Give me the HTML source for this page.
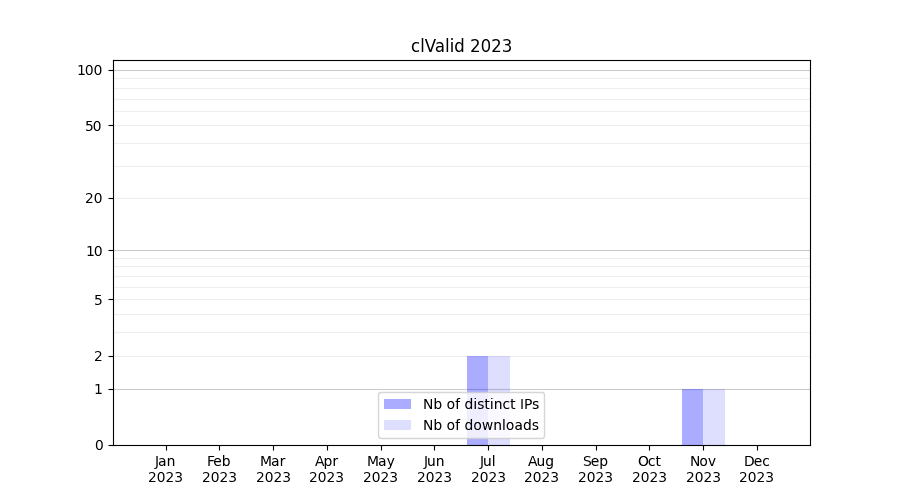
<!DOCTYPE html>
<html lang="en">
<head>
<meta charset="utf-8">
<title>clValid 2023</title>
<style>
html,body{margin:0;padding:0;background:#fff;font-family:"Liberation Sans",sans-serif}
svg{display:block}
</style>
</head>
<body>
<svg width="900" height="500" viewBox="0 0 900 500" role="img" aria-label="clValid 2023 - number of distinct IPs and downloads per month">
<defs>
<path id="g10_30" d="M4.344 -8.906L3.398 -8.66L2.719 -7.922L2.32 -6.707L2.188 -5L2.32 -3.289L2.719 -2.062L3.398 -1.336L4.344 -1.094L5.285 -1.336L5.953 -2.062L6.363 -3.289L6.5 -5L6.363 -6.707L5.953 -7.922L5.285 -8.66L4.344 -8.906ZM4.344 -10L5.138 -9.92L5.832 -9.68L6.427 -9.279L6.922 -8.719L7.312 -8.006L7.59 -7.148L7.757 -6.146L7.812 -5L7.757 -3.854L7.59 -2.852L7.312 -1.994L6.922 -1.281L6.427 -0.721L5.832 -0.32L5.138 -0.08L4.344 0L3.55 -0.08L2.855 -0.32L2.261 -0.721L1.766 -1.281L1.376 -1.994L1.098 -2.852L0.931 -3.854L0.875 -5L0.931 -6.146L1.098 -7.148L1.376 -8.006L1.766 -8.719L2.261 -9.279L2.855 -9.68L3.55 -9.92L4.344 -10Z"/>
<path id="g10_31" d="M1.75 -1.188L4 -1.188L4 -8.781L1.562 -8.297L1.562 -9.516L3.984 -10L5.312 -10L5.312 -1.188L7.625 -1.188L7.625 0L1.75 0L1.75 -1.188Z"/>
<path id="g10_32" d="M2.656 -1.094L7.375 -1.094L7.375 0L1 0L1 -1.094L1.922 -2.012L3.125 -3.203L4.219 -4.305L4.812 -4.922L5.379 -5.586L5.734 -6.141L5.934 -6.645L6 -7.125L5.859 -7.836L5.438 -8.406L4.785 -8.781L3.953 -8.906L2.594 -8.688L1.062 -8.031L1.062 -9.359L2.594 -9.844L3.906 -10L5.309 -9.809L6.391 -9.234L7.082 -8.34L7.312 -7.188L7.078 -6.031L6.762 -5.441L6.25 -4.766L5.895 -4.395L5.172 -3.656L4.098 -2.555L2.656 -1.094Z"/>
<path id="g10_33" d="M5.594 -5.391L6.469 -5.078L7.125 -4.547L7.547 -3.848L7.688 -3L7.623 -2.322L7.43 -1.727L7.107 -1.213L6.656 -0.781L5.422 -0.195L3.75 0L2.453 -0.109L1.062 -0.469L1.062 -1.75L2.312 -1.25L3.734 -1.094L4.863 -1.215L5.688 -1.578L6.203 -2.188L6.375 -3.016L6.219 -3.793L5.75 -4.375L5 -4.738L4 -4.859L2.812 -4.859L2.812 -5.953L4.047 -5.953L4.941 -6.047L5.594 -6.328L5.992 -6.785L6.125 -7.406L5.984 -8.051L5.562 -8.516L4.898 -8.809L4 -8.906L2.781 -8.781L1.375 -8.438L1.375 -9.594L2.812 -9.891L4.094 -10L5.477 -9.832L6.531 -9.328L7.211 -8.539L7.438 -7.516L7.316 -6.766L6.953 -6.141L6.379 -5.68L5.594 -5.391Z"/>
<path id="g10_35" d="M1.5 -10L6.844 -10L6.844 -8.906L2.812 -8.906L2.812 -6.766L3.391 -6.906L3.984 -6.953L5.465 -6.719L6.594 -6.016L7.32 -4.914L7.562 -3.484L7.499 -2.702L7.309 -2.012L6.991 -1.413L6.547 -0.906L5.336 -0.227L3.703 0L2.422 -0.094L1.062 -0.406L1.062 -1.781L2.328 -1.25L3.703 -1.094L4.754 -1.254L5.562 -1.734L6.078 -2.488L6.25 -3.469L6.078 -4.449L5.562 -5.203L4.762 -5.695L3.703 -5.859L2.609 -5.719L1.5 -5.344L1.5 -10Z"/>
<path id="g10_41" d="M4.75 -9.156L2.891 -3.984L6.609 -3.984L4.75 -9.156ZM3.969 -10L5.516 -10L9.375 0L7.953 0L7.031 -2.828L2.469 -2.828L1.547 0L0.109 0L3.969 -10Z"/>
<path id="g10_44" d="M2.688 -8.906L2.688 -1.094L4.344 -1.094L5.32 -1.152L6.156 -1.328L6.852 -1.621L7.406 -2.031L7.83 -2.575L8.133 -3.254L8.314 -4.067L8.375 -5.016L8.314 -5.956L8.133 -6.762L7.83 -7.433L7.406 -7.969L6.852 -8.379L6.156 -8.672L5.32 -8.848L4.344 -8.906L2.688 -8.906ZM1.375 -10L4.188 -10L5.559 -9.924L6.734 -9.695L7.715 -9.314L8.5 -8.781L9.102 -8.095L9.531 -7.238L9.789 -6.212L9.875 -5.016L9.788 -3.812L9.527 -2.777L9.093 -1.913L8.484 -1.219L7.7 -0.686L6.723 -0.305L5.552 -0.076L4.188 0L1.375 0L1.375 -10Z"/>
<path id="g10_46" d="M1.375 -10L7.141 -10L7.141 -8.906L2.688 -8.906L2.688 -5.953L6.703 -5.953L6.703 -4.859L2.688 -4.859L2.688 0L1.375 0L1.375 -10Z"/>
<path id="g10_49" d="M1.375 -10L2.688 -10L2.688 0L1.375 0L1.375 -10Z"/>
<path id="g10_4a" d="M1.375 -10L2.688 -10L2.688 -0.5L2.516 1.078L2 2.156L1.121 2.789L-0.172 3L-0.688 3L-0.688 1.906L-0.266 1.906L0.504 1.777L1 1.391L1.281 0.672L1.375 -0.453L1.375 -10Z"/>
<path id="g10_4d" d="M1.375 -10L3.406 -10L6 -3.188L8.609 -10L10.625 -10L10.625 0L9.312 0L9.312 -8.781L6.688 -1.922L5.312 -1.922L2.688 -8.781L2.688 0L1.375 0L1.375 -10Z"/>
<path id="g10_4e" d="M1.375 -10L3.203 -10L7.688 -1.641L7.688 -10L9 -10L9 0L7.172 0L2.688 -8.359L2.688 0L1.375 0L1.375 -10Z"/>
<path id="g10_4f" d="M5.438 -8.906L4.747 -8.841L4.129 -8.645L3.583 -8.317L3.109 -7.859L2.465 -6.621L2.25 -5L2.465 -3.387L3.109 -2.141L3.583 -1.683L4.129 -1.355L4.747 -1.159L5.438 -1.094L6.134 -1.159L6.754 -1.355L7.298 -1.683L7.766 -2.141L8.41 -3.387L8.625 -5L8.41 -6.621L7.766 -7.859L7.298 -8.317L6.754 -8.645L6.134 -8.841L5.438 -8.906ZM5.438 -10L6.453 -9.915L7.359 -9.66L8.156 -9.235L8.844 -8.641L9.404 -7.903L9.805 -7.051L10.045 -6.083L10.125 -5L10.045 -3.917L9.805 -2.949L9.404 -2.097L8.844 -1.359L8.156 -0.765L7.359 -0.34L6.453 -0.085L5.438 0L4.428 -0.084L3.523 -0.336L2.725 -0.756L2.031 -1.344L1.471 -2.082L1.07 -2.938L0.83 -3.91L0.75 -5L0.83 -6.083L1.07 -7.051L1.471 -7.903L2.031 -8.641L2.725 -9.235L3.523 -9.66L4.428 -9.915L5.438 -10Z"/>
<path id="g10_50" d="M2.688 -8.906L2.688 -4.953L4.391 -4.953L5.234 -5.082L5.859 -5.469L6.246 -6.09L6.375 -6.922L6.246 -7.766L5.859 -8.391L5.234 -8.777L4.391 -8.906L2.688 -8.906ZM1.375 -10L4.453 -10L5.934 -9.805L7 -9.219L7.656 -8.258L7.875 -6.938L7.656 -5.605L7 -4.641L5.918 -4.055L4.422 -3.859L2.688 -3.859L2.688 0L1.375 0L1.375 -10Z"/>
<path id="g10_53" d="M7.422 -9.5L7.422 -8.203L5.922 -8.734L4.562 -8.906L3.551 -8.801L2.797 -8.484L2.34 -7.992L2.188 -7.328L2.289 -6.766L2.594 -6.359L3.184 -6.066L4.141 -5.844L4.984 -5.672L6.328 -5.297L7.266 -4.703L7.816 -3.887L8 -2.844L7.754 -1.609L7.016 -0.719L5.801 -0.18L4.125 0L2.594 -0.156L0.922 -0.641L0.922 -1.984L2.562 -1.312L4.156 -1.094L5.207 -1.203L5.984 -1.531L6.465 -2.062L6.625 -2.781L6.508 -3.41L6.156 -3.891L5.555 -4.242L4.656 -4.484L3.812 -4.641L2.477 -5.008L1.562 -5.547L1.047 -6.289L0.875 -7.266L1.113 -8.406L1.828 -9.266L2.957 -9.816L4.438 -10L5.891 -9.875L7.422 -9.5Z"/>
<path id="g10_61" d="M4.797 -3.859L3.551 -3.777L2.75 -3.531L2.328 -3.102L2.188 -2.438L2.293 -1.879L2.609 -1.453L3.117 -1.184L3.766 -1.094L4.68 -1.266L5.391 -1.781L5.848 -2.582L6 -3.609L6 -3.859L4.797 -3.859ZM7.312 -4.453L7.312 0L6 0L6 -1.375L5.523 -0.762L4.938 -0.328L4.238 -0.082L3.391 0L2.352 -0.16L1.547 -0.641L1.043 -1.406L0.875 -2.391L1.086 -3.512L1.719 -4.312L2.785 -4.793L4.266 -4.953L6 -4.953L6 -5.094L5.859 -5.855L5.438 -6.422L4.773 -6.785L3.875 -6.906L2.625 -6.75L1.469 -6.281L1.469 -7.453L2.781 -7.859L4.047 -8L5.48 -7.777L6.5 -7.109L7.109 -6.008L7.312 -4.453Z"/>
<path id="g10_62" d="M6.75 -4L6.609 -5.211L6.188 -6.125L5.531 -6.711L4.656 -6.906L3.789 -6.711L3.125 -6.125L2.703 -5.211L2.562 -4L2.703 -2.785L3.125 -1.859L3.789 -1.285L4.656 -1.094L5.531 -1.285L6.188 -1.859L6.609 -2.785L6.75 -4ZM2.562 -6.625L3.004 -7.234L3.547 -7.656L4.199 -7.914L4.969 -8L5.624 -7.931L6.215 -7.723L6.741 -7.376L7.203 -6.891L7.848 -5.621L8.062 -4L7.848 -2.375L7.203 -1.094L6.741 -0.615L6.215 -0.273L5.624 -0.068L4.969 0L4.199 -0.082L3.547 -0.328L3.004 -0.762L2.562 -1.375L2.562 0L1.25 0L1.25 -11L2.562 -11L2.562 -6.625Z"/>
<path id="g10_63" d="M6.75 -7.516L6.75 -6.328L5.688 -6.75L4.625 -6.906L3.543 -6.715L2.734 -6.141L2.23 -5.223L2.062 -4L2.23 -2.777L2.734 -1.859L3.543 -1.285L4.625 -1.094L5.688 -1.234L6.75 -1.672L6.75 -0.5L5.672 -0.125L4.484 0L3.669 -0.067L2.941 -0.27L2.302 -0.606L1.75 -1.078L1 -2.348L0.75 -4L0.813 -4.88L1.004 -5.66L1.321 -6.341L1.766 -6.922L2.327 -7.394L2.98 -7.73L3.726 -7.933L4.562 -8L5.688 -7.875L6.75 -7.516Z"/>
<path id="g10_64" d="M6.25 -6.625L6.25 -11L7.562 -11L7.562 0L6.25 0L6.25 -1.375L5.809 -0.762L5.266 -0.328L4.609 -0.082L3.828 0L3.18 -0.068L2.594 -0.273L2.07 -0.615L1.609 -1.094L0.965 -2.375L0.75 -4L0.965 -5.621L1.609 -6.891L2.07 -7.376L2.594 -7.723L3.18 -7.931L3.828 -8L4.609 -7.914L5.266 -7.656L5.809 -7.234L6.25 -6.625ZM2.062 -4L2.199 -2.785L2.609 -1.859L3.277 -1.285L4.156 -1.094L5.023 -1.285L5.688 -1.859L6.109 -2.785L6.25 -4L6.109 -5.211L5.688 -6.125L5.023 -6.711L4.156 -6.906L3.277 -6.711L2.609 -6.125L2.199 -5.211L2.062 -4Z"/>
<path id="g10_65" d="M7.812 -4.453L7.812 -3.859L2.062 -3.859L2.238 -2.664L2.766 -1.797L3.609 -1.27L4.734 -1.094L6.141 -1.281L7.516 -1.828L7.516 -0.609L6.125 -0.156L4.703 0L3.837 -0.066L3.066 -0.266L2.392 -0.598L1.812 -1.062L1.348 -1.641L1.016 -2.312L0.816 -3.078L0.75 -3.938L1 -5.617L1.75 -6.906L2.302 -7.385L2.941 -7.727L3.669 -7.932L4.484 -8L5.867 -7.762L6.922 -7.047L7.59 -5.922L7.812 -4.453ZM6.5 -4.953L6.359 -5.754L5.938 -6.375L5.285 -6.773L4.453 -6.906L3.52 -6.777L2.781 -6.391L2.289 -5.781L2.062 -4.953L6.5 -4.953Z"/>
<path id="g10_66" d="M5.188 -11L5.188 -9.906L4.031 -9.906L3.477 -9.836L3.125 -9.625L2.938 -9.254L2.875 -8.672L2.875 -8L4.875 -8L4.875 -6.906L2.875 -6.906L2.875 0L1.562 0L1.562 -6.906L0.375 -6.906L0.375 -8L1.562 -8L1.562 -8.547L1.707 -9.652L2.141 -10.406L2.906 -10.852L4.016 -11L5.188 -11Z"/>
<path id="g10_67" d="M6.25 -4L6.113 -5.23L5.703 -6.141L5.043 -6.715L4.156 -6.906L3.277 -6.715L2.609 -6.141L2.199 -5.23L2.062 -4L2.199 -2.766L2.609 -1.844L3.277 -1.281L4.156 -1.094L5.043 -1.281L5.703 -1.844L6.113 -2.766L6.25 -4ZM7.562 -1.016L7.509 -0.065L7.348 0.754L7.079 1.442L6.703 2L5.613 2.75L4.062 3L2.812 2.891L1.688 2.578L1.688 1.312L2.75 1.766L3.828 1.906L4.891 1.742L5.641 1.25L6.098 0.422L6.25 -0.75L6.25 -1.391L5.809 -0.785L5.266 -0.344L4.609 -0.086L3.828 0L3.173 -0.068L2.582 -0.273L2.056 -0.615L1.594 -1.094L0.961 -2.367L0.75 -4L0.961 -5.633L1.594 -6.906L2.056 -7.385L2.582 -7.727L3.173 -7.932L3.828 -8L4.609 -7.914L5.266 -7.656L5.809 -7.223L6.25 -6.609L6.25 -8L7.562 -8L7.562 -1.016Z"/>
<path id="g10_69" d="M1.25 -8L2.562 -8L2.562 0L1.25 0L1.25 -8ZM1.25 -11L2.562 -11L2.562 -9.906L1.25 -9.906L1.25 -11Z"/>
<path id="g10_6c" d="M1.25 -11L2.562 -11L2.562 0L1.25 0L1.25 -11Z"/>
<path id="g10_6e" d="M7.625 -4.719L7.625 0L6.312 0L6.312 -4.688L6.211 -5.668L5.906 -6.359L5.395 -6.77L4.672 -6.906L3.801 -6.742L3.125 -6.25L2.703 -5.465L2.562 -4.422L2.562 0L1.25 0L1.25 -8L2.562 -8L2.562 -6.625L3.051 -7.227L3.609 -7.656L4.262 -7.914L5 -8L6.137 -7.789L6.953 -7.156L7.457 -6.133L7.625 -4.719Z"/>
<path id="g10_6f" d="M4.219 -6.906L3.332 -6.711L2.641 -6.125L2.207 -5.203L2.062 -4L2.207 -2.797L2.641 -1.875L3.324 -1.289L4.219 -1.094L5.113 -1.289L5.797 -1.875L6.23 -2.797L6.375 -4L6.23 -5.203L5.797 -6.125L5.113 -6.711L4.219 -6.906ZM4.219 -8L4.987 -7.934L5.668 -7.734L6.261 -7.402L6.766 -6.938L7.457 -5.672L7.688 -4L7.457 -2.336L6.766 -1.062L6.261 -0.598L5.668 -0.266L4.987 -0.066L4.219 0L3.45 -0.066L2.77 -0.266L2.177 -0.598L1.672 -1.062L0.98 -2.336L0.75 -4L0.98 -5.672L1.672 -6.938L2.177 -7.402L2.77 -7.734L3.45 -7.934L4.219 -8Z"/>
<path id="g10_70" d="M2.562 -1.375L2.562 3L1.25 3L1.25 -8L2.562 -8L2.562 -6.625L3.004 -7.234L3.547 -7.656L4.199 -7.914L4.969 -8L5.624 -7.931L6.215 -7.723L6.741 -7.376L7.203 -6.891L7.848 -5.621L8.062 -4L7.848 -2.375L7.203 -1.094L6.741 -0.615L6.215 -0.273L5.624 -0.068L4.969 0L4.199 -0.082L3.547 -0.328L3.004 -0.762L2.562 -1.375ZM6.75 -4L6.609 -5.211L6.188 -6.125L5.531 -6.711L4.656 -6.906L3.789 -6.711L3.125 -6.125L2.703 -5.211L2.562 -4L2.703 -2.785L3.125 -1.859L3.789 -1.285L4.656 -1.094L5.531 -1.285L6.188 -1.859L6.609 -2.785L6.75 -4Z"/>
<path id="g10_72" d="M5.75 -6.656L5.297 -6.844L4.75 -6.906L3.82 -6.727L3.125 -6.188L2.703 -5.316L2.562 -4.141L2.562 0L1.25 0L1.25 -8L2.562 -8L2.562 -6.641L3.012 -7.238L3.578 -7.656L4.285 -7.914L5.125 -8L5.406 -8.016L5.75 -8.109L5.75 -6.656Z"/>
<path id="g10_73" d="M6.078 -7.578L6.078 -6.375L5 -6.766L3.828 -6.906L3.031 -6.836L2.453 -6.625L2.113 -6.27L2 -5.766L2.082 -5.387L2.328 -5.094L2.824 -4.852L3.656 -4.625L4.078 -4.531L5.199 -4.18L5.938 -3.719L6.359 -3.102L6.5 -2.281L6.289 -1.34L5.656 -0.609L4.668 -0.152L3.359 0L2.078 -0.125L0.703 -0.5L0.703 -1.797L2.047 -1.266L3.375 -1.094L4.148 -1.168L4.719 -1.391L5.07 -1.754L5.188 -2.25L5.102 -2.691L4.844 -3.016L4.301 -3.285L3.359 -3.531L2.922 -3.641L1.938 -3.941L1.266 -4.375L0.879 -4.984L0.75 -5.781L0.938 -6.711L1.5 -7.406L2.422 -7.852L3.656 -8L4.953 -7.891L6.078 -7.578Z"/>
<path id="g10_74" d="M2.562 -10L2.562 -8L5.125 -8L5.125 -6.906L2.562 -6.906L2.562 -2.609L2.625 -1.812L2.812 -1.359L3.203 -1.148L3.844 -1.078L5.125 -1.078L5.125 0L3.828 0L2.586 -0.141L1.797 -0.562L1.387 -1.355L1.25 -2.609L1.25 -6.906L0.375 -6.906L0.375 -8L1.25 -8L1.25 -10L2.562 -10Z"/>
<path id="g10_75" d="M1.125 -3.281L1.125 -8L2.438 -8L2.438 -3.312L2.539 -2.34L2.844 -1.641L3.352 -1.23L4.062 -1.094L4.941 -1.258L5.609 -1.75L6.043 -2.539L6.188 -3.562L6.188 -8L7.5 -8L7.5 0L6.188 0L6.188 -1.375L5.699 -0.762L5.141 -0.328L4.5 -0.082L3.766 0L2.625 -0.207L1.797 -0.828L1.293 -1.863L1.125 -3.281ZM4.312 -8L4.312 -8Z"/>
<path id="g10_76" d="M0.422 -8L1.734 -8L4.109 -1.281L6.484 -8L7.797 -8L4.953 0L3.266 0L0.422 -8Z"/>
<path id="g10_77" d="M0.578 -8L1.828 -8L3.391 -1.75L4.938 -8L6.406 -8L7.969 -1.75L9.516 -8L10.766 -8L8.781 0L7.312 0L5.672 -6.562L4.031 0L2.562 0L0.578 -8Z"/>
<path id="g10_79" d="M4.5 0.703L4.236 1.358L3.977 1.887L3.721 2.288L3.469 2.562L2.883 2.891L2.125 3L1.125 3L1.125 1.922L1.859 1.922L2.316 1.855L2.656 1.656L2.953 1.23L3.281 0.453L3.516 -0.141L0.438 -8L1.766 -8L4.141 -1.75L6.5 -8L7.828 -8L4.5 0.703Z"/>
<path id="g12_30" d="M5.281 -11.641L4.68 -11.561L4.156 -11.32L3.711 -10.92L3.344 -10.359L3.063 -9.638L2.863 -8.754L2.743 -7.708L2.703 -6.5L2.743 -5.298L2.863 -4.254L3.063 -3.368L3.344 -2.641L3.711 -2.08L4.156 -1.68L4.68 -1.439L5.281 -1.359L5.889 -1.439L6.414 -1.68L6.857 -2.08L7.219 -2.641L7.506 -3.368L7.711 -4.254L7.834 -5.298L7.875 -6.5L7.834 -7.708L7.711 -8.754L7.506 -9.638L7.219 -10.359L6.857 -10.92L6.414 -11.32L5.889 -11.561L5.281 -11.641ZM5.281 -13L6.236 -12.896L7.07 -12.582L7.783 -12.06L8.375 -11.328L8.847 -10.399L9.184 -9.285L9.386 -7.985L9.453 -6.5L9.386 -5.008L9.184 -3.703L8.847 -2.586L8.375 -1.656L7.783 -0.932L7.07 -0.414L6.236 -0.104L5.281 0L4.332 -0.104L3.5 -0.414L2.785 -0.932L2.188 -1.656L1.723 -2.586L1.391 -3.703L1.191 -5.008L1.125 -6.5L1.191 -7.985L1.391 -9.285L1.723 -10.399L2.188 -11.328L2.785 -12.06L3.5 -12.582L4.332 -12.896L5.281 -13Z"/>
<path id="g12_32" d="M3.234 -1.359L9 -1.359L9 0L1.25 0L1.25 -1.359L2.355 -2.57L3.797 -4.141L4.533 -4.938L5.117 -5.582L5.549 -6.071L5.828 -6.406L6.504 -7.262L6.938 -7.984L7.172 -8.648L7.25 -9.297L7.078 -10.234L6.562 -10.984L5.785 -11.477L4.797 -11.641L4.008 -11.566L3.172 -11.344L2.281 -10.988L1.328 -10.484L1.328 -12.203L3.172 -12.797L4.734 -13L6.418 -12.75L7.719 -12L8.204 -11.458L8.551 -10.832L8.759 -10.122L8.828 -9.328L8.758 -8.543L8.547 -7.812L8.156 -7.043L7.547 -6.141L7.125 -5.652L6.266 -4.688L4.969 -3.262L3.234 -1.359Z"/>
<path id="g12_33" d="M6.734 -6.984L7.781 -6.59L8.578 -5.906L9.082 -4.992L9.25 -3.875L9.173 -3.005L8.941 -2.238L8.556 -1.575L8.016 -1.016L7.341 -0.571L6.535 -0.254L5.599 -0.063L4.531 0L2.969 -0.141L1.312 -0.594L1.312 -2.281L2.812 -1.594L4.516 -1.359L5.875 -1.531L6.859 -2.047L7.469 -2.91L7.672 -4.094L7.484 -5.203L6.922 -6.031L6.023 -6.559L4.828 -6.734L3.406 -6.734L3.406 -8.078L4.891 -8.078L5.953 -8.188L6.734 -8.516L7.215 -9.07L7.375 -9.828L7.207 -10.602L6.703 -11.172L5.902 -11.523L4.812 -11.641L3.375 -11.5L1.672 -11.078L1.672 -12.484L3.406 -12.875L4.938 -13L6.602 -12.777L7.875 -12.109L8.347 -11.634L8.684 -11.082L8.886 -10.454L8.953 -9.75L8.809 -8.785L8.375 -7.984L7.676 -7.383L6.734 -6.984Z"/>
<path id="g12_56" d="M4.766 0L0.125 -13L1.844 -13L5.688 -2.062L9.531 -13L11.234 -13L6.609 0L4.766 0Z"/>
<path id="g12_61" d="M5.656 -4.734L4.834 -4.71L4.148 -4.637L3.6 -4.515L3.188 -4.344L2.672 -3.812L2.5 -3L2.629 -2.324L3.016 -1.797L3.625 -1.469L4.422 -1.359L5.52 -1.566L6.375 -2.188L6.938 -3.168L7.125 -4.422L7.125 -4.734L5.656 -4.734ZM8.625 -5.578L8.625 0L7.125 0L7.125 -1.703L6.559 -0.941L5.859 -0.406L5.023 -0.102L4.016 0L2.777 -0.199L1.812 -0.797L1.203 -1.727L1 -2.922L1.063 -3.661L1.254 -4.301L1.571 -4.841L2.016 -5.281L3.281 -5.879L5.047 -6.078L7.125 -6.078L7.125 -6.234L6.957 -7.258L6.453 -8.016L5.648 -8.484L4.578 -8.641L3.062 -8.438L1.672 -7.812L1.672 -9.328L3.25 -9.828L4.734 -10L5.649 -9.932L6.441 -9.727L7.11 -9.385L7.656 -8.906L8.08 -8.288L8.383 -7.527L8.564 -6.624L8.625 -5.578Z"/>
<path id="g12_63" d="M8.062 -9.391L8.062 -7.922L6.797 -8.453L5.516 -8.641L4.223 -8.402L3.25 -7.688L2.652 -6.539L2.453 -5L2.652 -3.469L3.25 -2.312L4.223 -1.598L5.516 -1.359L6.797 -1.531L8.062 -2.078L8.062 -0.625L6.766 -0.156L5.344 0L4.372 -0.084L3.504 -0.336L2.739 -0.756L2.078 -1.344L1.552 -2.082L1.176 -2.938L0.95 -3.91L0.875 -5L0.951 -6.102L1.18 -7.078L1.561 -7.93L2.094 -8.656L2.76 -9.244L3.539 -9.664L4.432 -9.916L5.438 -10L6.797 -9.844L8.062 -9.391Z"/>
<path id="g12_64" d="M7.5 -8.281L7.5 -14L9 -14L9 0L7.5 0L7.5 -1.719L6.969 -0.957L6.312 -0.422L5.523 -0.105L4.594 0L3.805 -0.086L3.094 -0.344L2.461 -0.773L1.906 -1.375L1.455 -2.123L1.133 -2.977L0.939 -3.936L0.875 -5L0.939 -6.063L1.133 -7.02L1.455 -7.868L1.906 -8.609L2.461 -9.218L3.094 -9.652L3.805 -9.913L4.594 -10L5.523 -9.895L6.312 -9.578L6.969 -9.043L7.5 -8.281ZM2.453 -5L2.621 -3.48L3.125 -2.328L3.922 -1.602L4.969 -1.359L6.016 -1.602L6.812 -2.328L7.328 -3.48L7.5 -5L7.328 -6.52L6.812 -7.672L6.016 -8.398L4.969 -8.641L3.922 -8.398L3.125 -7.672L2.621 -6.52L2.453 -5Z"/>
<path id="g12_69" d="M1.625 -10L3.125 -10L3.125 0L1.625 0L1.625 -10ZM1.625 -14L3.125 -14L3.125 -11.969L1.625 -11.969L1.625 -14Z"/>
<path id="g12_6c" d="M1.625 -14L3.125 -14L3.125 0L1.625 0L1.625 -14Z"/>
</defs>
<rect width="900" height="500" fill="#fff"/>
<g id="grid-minor" fill="#eee">
<rect x="113" y="77.944" width="698" height="1.111"/>
<rect x="113" y="87.944" width="698" height="1.111"/>
<rect x="113" y="98.944" width="698" height="1.111"/>
<rect x="113" y="110.944" width="698" height="1.111"/>
<rect x="113" y="124.944" width="698" height="1.111"/>
<rect x="113" y="142.944" width="698" height="1.111"/>
<rect x="113" y="165.944" width="698" height="1.111"/>
<rect x="113" y="197.944" width="698" height="1.111"/>
<rect x="113" y="257.944" width="698" height="1.111"/>
<rect x="113" y="265.944" width="698" height="1.111"/>
<rect x="113" y="275.944" width="698" height="1.111"/>
<rect x="113" y="286.944" width="698" height="1.111"/>
<rect x="113" y="298.944" width="698" height="1.111"/>
<rect x="113" y="313.944" width="698" height="1.111"/>
<rect x="113" y="331.944" width="698" height="1.111"/>
<rect x="113" y="355.944" width="698" height="1.111"/>
</g>
<g id="grid-major" fill="#ccc">
<rect x="113" y="69.944" width="698" height="1.111"/>
<rect x="113" y="249.944" width="698" height="1.111"/>
<rect x="113" y="388.944" width="698" height="1.111"/>
</g>
<g id="bars" shape-rendering="crispEdges">
<rect x="467" y="356" width="21" height="89" fill="#00f" fill-opacity=".33"/>
<rect x="488" y="356" width="22" height="89" fill="#00f" fill-opacity=".13"/>
<rect x="682" y="389" width="21" height="56" fill="#00f" fill-opacity=".33"/>
<rect x="703" y="389" width="22" height="56" fill="#00f" fill-opacity=".13"/>
</g>
<g id="ticks" fill="#000">
<rect x="165.944" y="445.5" width="1.111" height="5"/>
<rect x="218.944" y="445.5" width="1.111" height="5"/>
<rect x="272.944" y="445.5" width="1.111" height="5"/>
<rect x="326.944" y="445.5" width="1.111" height="5"/>
<rect x="380.944" y="445.5" width="1.111" height="5"/>
<rect x="433.944" y="445.5" width="1.111" height="5"/>
<rect x="487.944" y="445.5" width="1.111" height="5"/>
<rect x="541.944" y="445.5" width="1.111" height="5"/>
<rect x="595.944" y="445.5" width="1.111" height="5"/>
<rect x="648.944" y="445.5" width="1.111" height="5"/>
<rect x="702.944" y="445.5" width="1.111" height="5"/>
<rect x="756.944" y="445.5" width="1.111" height="5"/>
<rect x="108.5" y="444.944" width="5" height="1.111"/>
<rect x="108.5" y="388.944" width="5" height="1.111"/>
<rect x="108.5" y="355.944" width="5" height="1.111"/>
<rect x="108.5" y="298.944" width="5" height="1.111"/>
<rect x="108.5" y="249.944" width="5" height="1.111"/>
<rect x="108.5" y="197.944" width="5" height="1.111"/>
<rect x="108.5" y="124.944" width="5" height="1.111"/>
<rect x="108.5" y="69.944" width="5" height="1.111"/>
</g>
<g id="spines" fill="#000">
<rect x="112.944" y="59.944" width="1.111" height="386.111"/>
<rect x="809.944" y="59.944" width="1.111" height="386.111"/>
<rect x="112.944" y="444.944" width="698.111" height="1.111"/>
<rect x="112.944" y="59.944" width="698.111" height="1.111"/>
</g>
<g id="labels" fill="#000">
<g aria-label="Jan"><title>Jan</title><use href="#g10_4a" x="155" y="466"/><use href="#g10_61" x="158" y="466"/><use href="#g10_6e" x="166.625" y="466"/></g>
<g aria-label="2023"><title>2023</title><use href="#g10_32" x="148" y="482"/><use href="#g10_30" x="156.75" y="482"/><use href="#g10_32" x="165.5" y="482"/><use href="#g10_33" x="174.25" y="482"/></g>
<g aria-label="Feb"><title>Feb</title><use href="#g10_46" x="207" y="466"/><use href="#g10_65" x="213.25" y="466"/><use href="#g10_62" x="221.75" y="466"/></g>
<g aria-label="2023"><title>2023</title><use href="#g10_32" x="202" y="482"/><use href="#g10_30" x="210.75" y="482"/><use href="#g10_32" x="219.5" y="482"/><use href="#g10_33" x="228.25" y="482"/></g>
<g aria-label="Mar"><title>Mar</title><use href="#g10_4d" x="260" y="466"/><use href="#g10_61" x="271" y="466"/><use href="#g10_72" x="279.625" y="466"/></g>
<g aria-label="2023"><title>2023</title><use href="#g10_32" x="256" y="482"/><use href="#g10_30" x="264.75" y="482"/><use href="#g10_32" x="273.5" y="482"/><use href="#g10_33" x="282.25" y="482"/></g>
<g aria-label="Apr"><title>Apr</title><use href="#g10_41" x="315" y="466"/><use href="#g10_70" x="323.5" y="466"/><use href="#g10_72" x="332.375" y="466"/></g>
<g aria-label="2023"><title>2023</title><use href="#g10_32" x="309" y="482"/><use href="#g10_30" x="317.75" y="482"/><use href="#g10_32" x="326.5" y="482"/><use href="#g10_33" x="335.25" y="482"/></g>
<g aria-label="May"><title>May</title><use href="#g10_4d" x="367" y="466"/><use href="#g10_61" x="378" y="466"/><use href="#g10_79" x="386.625" y="466"/></g>
<g aria-label="2023"><title>2023</title><use href="#g10_32" x="363" y="482"/><use href="#g10_30" x="371.75" y="482"/><use href="#g10_32" x="380.5" y="482"/><use href="#g10_33" x="389.25" y="482"/></g>
<g aria-label="Jun"><title>Jun</title><use href="#g10_4a" x="424" y="466"/><use href="#g10_75" x="427" y="466"/><use href="#g10_6e" x="435.75" y="466"/></g>
<g aria-label="2023"><title>2023</title><use href="#g10_32" x="417" y="482"/><use href="#g10_30" x="425.75" y="482"/><use href="#g10_32" x="434.5" y="482"/><use href="#g10_33" x="443.25" y="482"/></g>
<g aria-label="Jul"><title>Jul</title><use href="#g10_4a" x="480" y="466"/><use href="#g10_75" x="483" y="466"/><use href="#g10_6c" x="491.75" y="466"/></g>
<g aria-label="2023"><title>2023</title><use href="#g10_32" x="471" y="482"/><use href="#g10_30" x="479.75" y="482"/><use href="#g10_32" x="488.5" y="482"/><use href="#g10_33" x="497.25" y="482"/></g>
<g aria-label="Aug"><title>Aug</title><use href="#g10_41" x="528" y="466"/><use href="#g10_75" x="536.5" y="466"/><use href="#g10_67" x="545.25" y="466"/></g>
<g aria-label="2023"><title>2023</title><use href="#g10_32" x="524" y="482"/><use href="#g10_30" x="532.75" y="482"/><use href="#g10_32" x="541.5" y="482"/><use href="#g10_33" x="550.25" y="482"/></g>
<g aria-label="Sep"><title>Sep</title><use href="#g10_53" x="583" y="466"/><use href="#g10_65" x="590.75" y="466"/><use href="#g10_70" x="599.25" y="466"/></g>
<g aria-label="2023"><title>2023</title><use href="#g10_32" x="578" y="482"/><use href="#g10_30" x="586.75" y="482"/><use href="#g10_32" x="595.5" y="482"/><use href="#g10_33" x="604.25" y="482"/></g>
<g aria-label="Oct"><title>Oct</title><use href="#g10_4f" x="638" y="466"/><use href="#g10_63" x="647.875" y="466"/><use href="#g10_74" x="655.5" y="466"/></g>
<g aria-label="2023"><title>2023</title><use href="#g10_32" x="632" y="482"/><use href="#g10_30" x="640.75" y="482"/><use href="#g10_32" x="649.5" y="482"/><use href="#g10_33" x="658.25" y="482"/></g>
<g aria-label="Nov"><title>Nov</title><use href="#g10_4e" x="690" y="466"/><use href="#g10_6f" x="699.375" y="466"/><use href="#g10_76" x="707.875" y="466"/></g>
<g aria-label="2023"><title>2023</title><use href="#g10_32" x="686" y="482"/><use href="#g10_30" x="694.75" y="482"/><use href="#g10_32" x="703.5" y="482"/><use href="#g10_33" x="712.25" y="482"/></g>
<g aria-label="Dec"><title>Dec</title><use href="#g10_44" x="744" y="466"/><use href="#g10_65" x="753.75" y="466"/><use href="#g10_63" x="762.25" y="466"/></g>
<g aria-label="2023"><title>2023</title><use href="#g10_32" x="739" y="482"/><use href="#g10_30" x="747.75" y="482"/><use href="#g10_32" x="756.5" y="482"/><use href="#g10_33" x="765.25" y="482"/></g>
<g aria-label="0"><title>0</title><use href="#g10_30" x="95" y="450"/></g>
<g aria-label="1"><title>1</title><use href="#g10_31" x="94" y="394"/></g>
<g aria-label="2"><title>2</title><use href="#g10_32" x="94" y="361"/></g>
<g aria-label="5"><title>5</title><use href="#g10_35" x="94" y="305"/></g>
<g aria-label="10"><title>10</title><use href="#g10_31" x="86" y="256"/><use href="#g10_30" x="93.875" y="256"/></g>
<g aria-label="20"><title>20</title><use href="#g10_32" x="85" y="203"/><use href="#g10_30" x="93.75" y="203"/></g>
<g aria-label="50"><title>50</title><use href="#g10_35" x="85" y="131"/><use href="#g10_30" x="92.75" y="131"/></g>
<g aria-label="100"><title>100</title><use href="#g10_31" x="77" y="75"/><use href="#g10_30" x="84.875" y="75"/><use href="#g10_30" x="93.625" y="75"/></g>
<g aria-label="clValid 2023"><title>clValid 2023</title><use href="#g12_63" x="411" y="52"/><use href="#g12_6c" x="420.125" y="52"/><use href="#g12_56" x="424.75" y="52"/><use href="#g12_61" x="434.875" y="52"/><use href="#g12_6c" x="445" y="52"/><use href="#g12_69" x="449.625" y="52"/><use href="#g12_64" x="454.25" y="52"/><use href="#g12_32" x="470" y="52"/><use href="#g12_30" x="480.625" y="52"/><use href="#g12_32" x="491.125" y="52"/><use href="#g12_33" x="501.75" y="52"/></g>
</g>
<g id="legend">
<path d="M381.5 392.5H542.5Q544.5 392.5 544.5 395.5V435.5Q544.5 438.5 542.5 438.5H381.5Q378.5 438.5 378.5 435.5V395.5Q378.5 392.5 381.5 392.5Z" fill="#fff" fill-opacity=".8" stroke="#ccc" stroke-opacity=".8" stroke-width="1.389"/>
<rect x="384" y="399" width="27" height="10" fill="#00f" fill-opacity=".33" shape-rendering="crispEdges"/>
<rect x="384" y="420" width="27" height="10" fill="#00f" fill-opacity=".13" shape-rendering="crispEdges"/>
<g fill="#000">
<g aria-label="Nb of distinct IPs"><title>Nb of distinct IPs</title><use href="#g10_4e" x="423" y="409"/><use href="#g10_62" x="433.375" y="409"/><use href="#g10_6f" x="446.625" y="409"/><use href="#g10_66" x="455.125" y="409"/><use href="#g10_64" x="464.5" y="409"/><use href="#g10_69" x="473.375" y="409"/><use href="#g10_73" x="477.25" y="409"/><use href="#g10_74" x="484.375" y="409"/><use href="#g10_69" x="489.875" y="409"/><use href="#g10_6e" x="493.75" y="409"/><use href="#g10_63" x="502.5" y="409"/><use href="#g10_74" x="510.125" y="409"/><use href="#g10_49" x="520" y="409"/><use href="#g10_50" x="524" y="409"/><use href="#g10_73" x="532.125" y="409"/></g>
<g aria-label="Nb of downloads"><title>Nb of downloads</title><use href="#g10_4e" x="423" y="430"/><use href="#g10_62" x="433.375" y="430"/><use href="#g10_6f" x="446.625" y="430"/><use href="#g10_66" x="455.125" y="430"/><use href="#g10_64" x="464.5" y="430"/><use href="#g10_6f" x="473.375" y="430"/><use href="#g10_77" x="481.875" y="430"/><use href="#g10_6e" x="493.25" y="430"/><use href="#g10_6c" x="502" y="430"/><use href="#g10_6f" x="505.875" y="430"/><use href="#g10_61" x="514.375" y="430"/><use href="#g10_64" x="523" y="430"/><use href="#g10_73" x="531.875" y="430"/></g>
</g>
</g>
</svg>
</body>
</html>
